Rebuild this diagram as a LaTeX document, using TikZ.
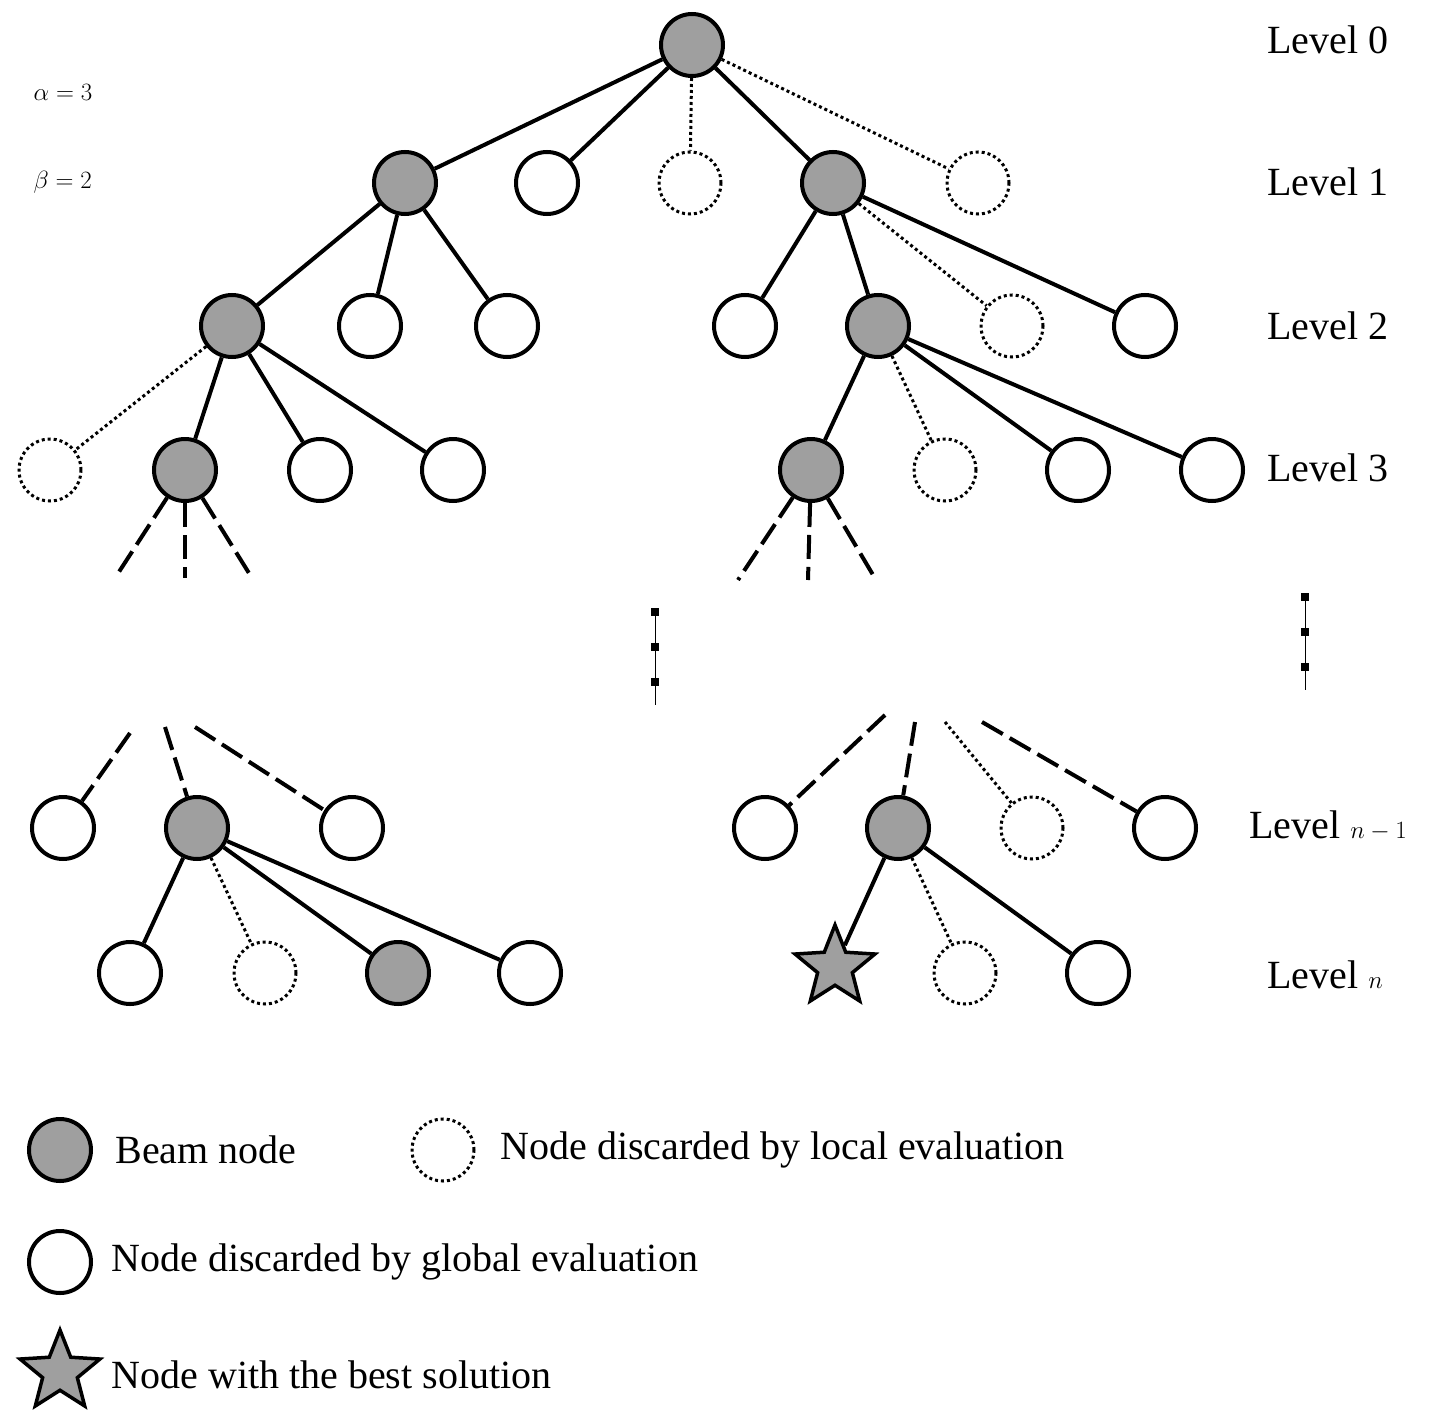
\documentclass[tikz,border=0pt]{standalone}
\usepackage{fontspec}
\setmainfont{Liberation Serif}
\usetikzlibrary{shapes.geometric}
\begin{document}
\begin{tikzpicture}[x=1pt,y=-1pt,
 nd/.style={circle,draw,line width=4pt,minimum size=62pt,inner sep=0pt},
 beam/.style={nd,fill=gray!75},
 wht/.style={nd,fill=white},
 loc/.style={nd,fill=white,dash pattern=on 3pt off 3pt,line width=3pt},
 bst/.style={star,star points=5,star point ratio=2.3,draw,line width=3.5pt,fill=gray!75,minimum size=84pt,inner sep=0pt},
 e/.style={line width=4pt},
 d/.style={line width=3pt,dash pattern=on 3pt off 3pt},
 ds/.style={line width=4pt,dash pattern=on 24pt off 8pt},
 lab/.style={font=\fontsize{40}{48}\selectfont,anchor=center}]
\useasboundingbox (0,0) rectangle (1451,1426);
% nodes
\node[beam] (r) at (692,45) {};
\node[beam] (A) at (405,183) {}; \node[wht] (B) at (547,183) {}; \node[loc] (C) at (690,183) {};
\node[beam] (D) at (833,183) {}; \node[loc] (E) at (978,183) {};
\node[beam] (F) at (232,326) {}; \node[wht] (G) at (370,326) {}; \node[wht] (H) at (507,326) {};
\node[wht] (I) at (745,326) {}; \node[beam] (J) at (878,326) {}; \node[loc] (K) at (1012,326) {}; \node[wht] (L) at (1145,326) {};
\node[loc] (M) at (50,470) {}; \node[beam] (N) at (185,470) {}; \node[wht] (O) at (320,470) {}; \node[wht] (P) at (453,470) {};
\node[beam] (Q) at (811,470) {}; \node[loc] (R) at (945,470) {}; \node[wht] (S) at (1078,470) {}; \node[wht] (T) at (1212,470) {};
\node[wht] (U) at (63,828) {}; \node[beam] (V) at (197,828) {}; \node[wht] (W) at (352,828) {};
\node[wht] (X) at (765,828) {}; \node[beam] (Y) at (898,828) {}; \node[loc] (Z) at (1032,828) {}; \node[wht] (AA) at (1165,828) {};
\node[wht] (BB) at (130,973) {}; \node[loc] (CC) at (265,973) {}; \node[beam] (DD) at (398,973) {}; \node[wht] (EE) at (530,973) {};
\node[bst] (SS) at (835,967) {}; \node[loc] (FF) at (965,973) {}; \node[wht] (GG) at (1098,973) {};
% edges
\draw[e] (r)--(A); \draw[e] (r)--(B); \draw[d] (r)--(C); \draw[e] (r)--(D); \draw[d] (r)--(E);
\draw[e] (A)--(F); \draw[e] (A)--(G); \draw[e] (A)--(H);
\draw[e] (D)--(I); \draw[e] (D)--(J); \draw[d] (D)--(K); \draw[e] (D)--(L);
\draw[d] (F)--(M); \draw[e] (F)--(N); \draw[e] (F)--(O); \draw[e] (F)--(P);
\draw[e] (J)--(Q); \draw[d] (J)--(R); \draw[e] (J)--(S); \draw[e] (J)--(T);
\draw[e] (V)--(BB); \draw[d] (V)--(CC); \draw[e] (V)--(DD); \draw[e] (V)--(EE);
\draw[e] (Y)--(SS); \draw[d] (Y)--(FF); \draw[e] (Y)--(GG);
% stubs
\coordinate (n1) at (115,578); \coordinate (n2) at (185,578); \coordinate (n3) at (252,578);
\coordinate (q1) at (738,580); \coordinate (q2) at (808,580); \coordinate (q3) at (876,580);
\draw[ds] (N)--(n1); \draw[ds] (N)--(n2); \draw[ds] (N)--(n3);
\draw[ds] (Q)--(q1); \draw[ds] (Q)--(q2); \draw[ds] (Q)--(q3);
\coordinate (u1) at (130,733); \coordinate (v1) at (165,727); \coordinate (w1) at (195,727);
\coordinate (x1) at (885,715); \coordinate (y1) at (915,722); \coordinate (z1) at (945,722); \coordinate (a1) at (982,722);
\draw[ds] (u1)--(U); \draw[ds] (v1)--(V); \draw[ds] (w1)--(W);
\draw[ds] (x1)--(X); \draw[ds] (y1)--(Y); \draw[d] (z1)--(Z); \draw[ds] (a1)--(AA);
% vertical dots
\coordinate (vd1) at (655,610); \coordinate (vd2) at (655,705);
\coordinate (vd3) at (1305,595); \coordinate (vd4) at (1305,690);
\draw[line width=1pt] (vd1)--(vd2); \draw[line width=1pt] (vd3)--(vd4);
\foreach \y in {612,647,682} \fill (651,\y-4) rectangle (659,\y+4);
\foreach \y in {597,632,667} \fill (1301,\y-4) rectangle (1309,\y+4);
% labels
\node[lab] (l0) at (1328,40) {Level 0};
\node[lab] (l1) at (1328,182) {Level 1};
\node[lab] (l2) at (1328,326) {Level 2};
\node[lab] (l3) at (1328,468) {Level 3};
\node[lab] (ln1) at (1328,826) {Level $n-1$};
\node[lab] (ln) at (1325,975) {Level $n$};
\node[lab,anchor=west] (al) at (30,92) {$\alpha=3$};
\node[lab,anchor=west] (be) at (30,182) {$\beta=2$};
% legend
\node[beam] (g1) at (60,1150) {};
\node[lab,anchor=west] (t1) at (112,1150) {Beam node};
\node[loc] (g2) at (443,1150) {};
\node[lab,anchor=west] (t2) at (497,1150) {Node discarded by local evaluation};
\node[wht] (g3) at (60,1262) {};
\node[lab,anchor=west] (t3) at (108,1262) {Node discarded by global evaluation};
\node[bst] (g4) at (60,1372) {};
\node[lab,anchor=west] (t4) at (108,1375) {Node with the best solution};
\end{tikzpicture}
\end{document}
